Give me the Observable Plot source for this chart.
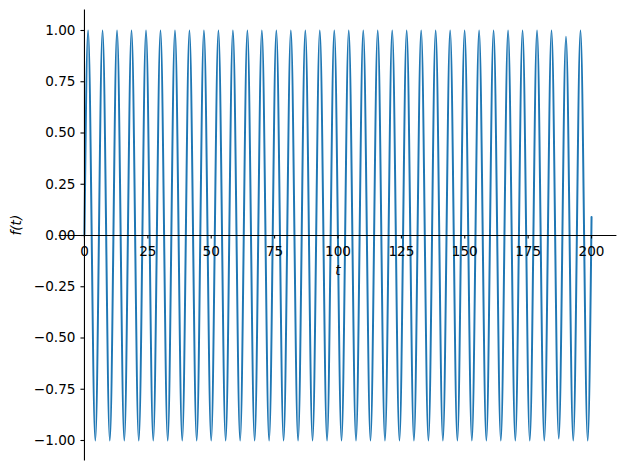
<!DOCTYPE html>
<html>
<head>
<meta charset="utf-8">
<script src="https://cdn.jsdelivr.net/npm/d3@7"></script>
<script src="https://cdn.jsdelivr.net/npm/@observablehq/plot@0.6"></script>
<style>
  html, body { margin: 0; padding: 0; background: #fff; }
  svg { display: block; }
</style>
</head>
<body>
<div id="chart"></div>
<script>
// Curve: start/end points, peaks and troughs
const startPoint = [0, 0];
const endPoint = [200, 0.09];
const peakT = [1.43, 7.14, 12.85, 18.56, 24.28, 29.99, 35.70, 41.41, 47.12, 52.84,
  58.55, 64.26, 69.97, 75.68, 81.40, 87.11, 92.82, 98.53, 104.24, 109.96,
  115.67, 121.38, 127.09, 132.80, 138.52, 144.23, 149.94, 155.65, 161.36, 167.08,
  172.79, 178.50, 184.21, 189.92, 195.64];
const peakV = [1, 1, 1, 1, 1, 1, 1, 1, 1, 1,
  1, 1, 1, 1, 1, 1, 1, 1, 1, 1,
  1, 1, 1, 1, 1, 1, 1, 1, 1, 1,
  1, 1, 1, 0.97, 1];
const troughT = [4.28, 10.00, 15.71, 21.42, 27.13, 32.84, 38.56, 44.27, 49.98, 55.69,
  61.40, 67.12, 72.83, 78.54, 84.25, 89.96, 95.68, 101.39, 107.10, 112.81,
  118.52, 124.24, 129.95, 135.66, 141.37, 147.08, 152.80, 158.51, 164.22, 169.93,
  175.64, 181.36, 187.07, 192.78, 198.49];
const troughV = [-1, -1, -1, -1, -1, -1, -1, -1, -1, -1,
  -1, -1, -1, -1, -1, -1, -1, -1, -1, -1,
  -1, -1, -1, -1, -1, -1, -1, -1, -1, -1,
  -1, -1, -0.99, -1, -1];

const xTicks = [0, 25, 50, 75, 100, 125, 150, 175, 200];
const yTicks = [-1, -0.75, -0.5, -0.25, 0, 0.25, 0.5, 0.75, 1];
const xLabel = "t";
const yLabel = "f(t)";

const curve = [
  {t: startPoint[0], f: startPoint[1]},
  ...peakT.map((t, i) => ({t, f: peakV[i]})),
  ...troughT.map((t, i) => ({t, f: troughV[i]})),
  {t: endPoint[0], f: endPoint[1]}
].sort((a, b) => a.t - b.t);

const fmtY = d => (d < 0 ? "\u2212" : "") + Math.abs(d).toFixed(2);
const font = "DejaVu Sans, sans-serif";
const fs = 13.6;

const chart = Plot.plot({
  width: 627,
  height: 470,
  marginLeft: 58.6,
  marginRight: 10.6,
  marginTop: 9.5,
  marginBottom: 9.5,
  style: {fontFamily: font, background: "#fff"},
  x: {domain: [-10, 210], axis: null},
  y: {domain: [-1.1, 1.1], axis: null},
  marks: [
    Plot.line(curve, {x: "t", y: "f", stroke: "#1f77b4", strokeWidth: 2, curve: "monotone-x", clip: true}),
    // spines
    Plot.ruleY([0], {stroke: "#000", strokeWidth: 1.1}),
    Plot.ruleX([0], {stroke: "#000", strokeWidth: 1.1}),
    // ticks
    Plot.ruleX(xTicks, {x: d => d, y1: 0, y2: 0, insetBottom: -3.5, stroke: "#000", strokeWidth: 1.1}),
    Plot.ruleY(yTicks, {y: d => d, x1: 0, x2: 0, insetLeft: -3.5, stroke: "#000", strokeWidth: 1.1}),
    // tick labels
    Plot.text(xTicks, {x: d => d, y: 0, text: d => String(d), dy: 11.3, lineAnchor: "top", textAnchor: "middle", fontSize: fs, fill: "#000"}),
    Plot.text(yTicks, {x: 0, y: d => d, text: fmtY, dx: -9, textAnchor: "end", fontSize: fs, fill: "#000"}),
    // axis labels
    Plot.text([xLabel], {text: d => d, frameAnchor: "middle", y: 0, dy: 35, fontSize: fs, fontStyle: "italic", fill: "#000"}),
    Plot.text([yLabel], {text: d => d, frameAnchor: "left", y: 0, dx: -42, rotate: -90, fontSize: fs, fontStyle: "italic", fill: "#000"})
  ]
});
document.getElementById("chart").appendChild(chart);
</script>
</body>
</html>
